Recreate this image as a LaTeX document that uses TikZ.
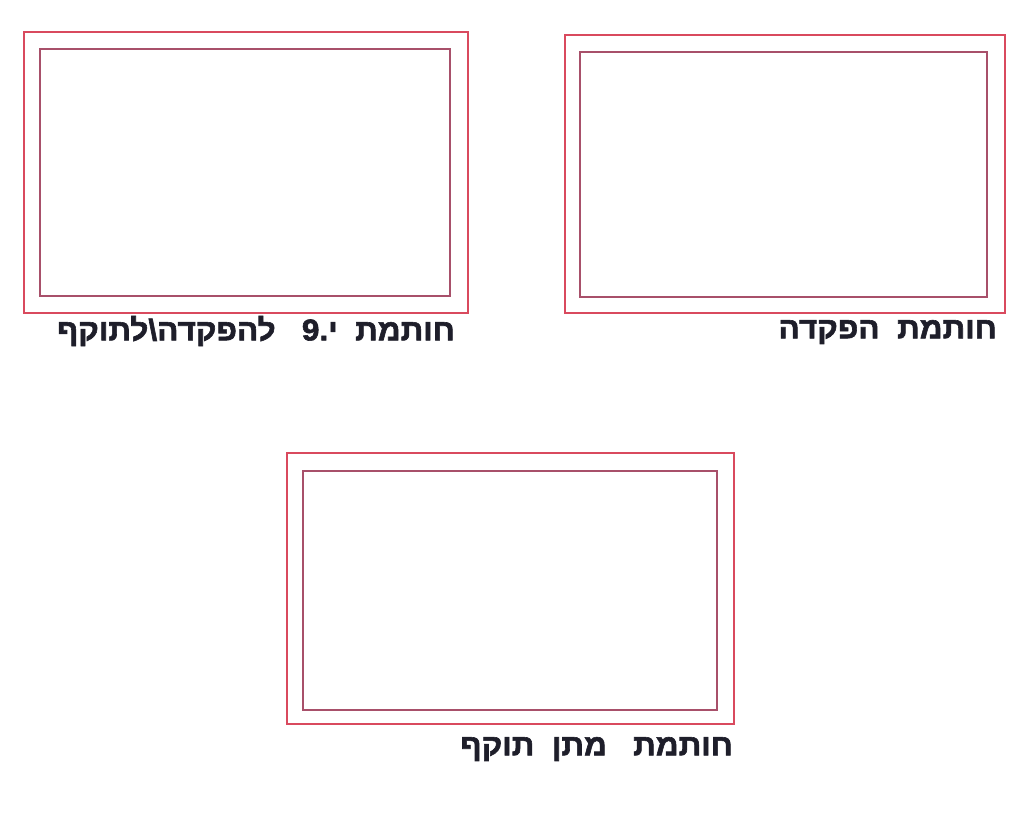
\documentclass[tikz,border=0pt]{standalone}
\usepackage{fontspec}
\newfontfamily\hebfont[Script=Hebrew, FakeBold=2, FakeStretch=1.05]{Liberation Sans}
\TeXXeTstate=1
\definecolor{frameout}{HTML}{D94A5E}
\definecolor{framein}{HTML}{A8506A}
\definecolor{labelink}{HTML}{1E1E2A}

\begin{document}
\begin{tikzpicture}[
  x=1pt, y=-1pt,
  outerframe/.style={draw=frameout, line width=1.3pt},
  innerframe/.style={draw=framein, line width=1.3pt},
  stamplabel/.style={anchor=east, inner sep=0pt, text=labelink,
    font=\hebfont\bfseries\fontsize{30}{34}\selectfont}
]
\useasboundingbox (0,0) rectangle (1025,818);

% Two stamp boxes on top, one below.
\draw[outerframe] (24,32) rectangle (468,313);
\draw[innerframe] (40,49) rectangle (450,296);
\draw[outerframe] (565,35) rectangle (1005,313);
\draw[innerframe] (580,52) rectangle (987,297);
\draw[outerframe] (287,453) rectangle (734,724);
\draw[innerframe] (303,471) rectangle (717,710);

% Labels under the boxes.
\node[stamplabel] (planlabel) at (455,331)
  {\beginR חותמת\ \ י.9\ \ \ להפקדה\textbackslash לתוקף\endR};
\node[stamplabel] (depositlabel) at (997,332)
  {\beginR חותמת\ \ הפקדה\endR};
\node[stamplabel] (validlabel) at (733,749)
  {\beginR חותמת\ \ \ מתן\ \ תוקף\endR};
\end{tikzpicture}
\end{document}
